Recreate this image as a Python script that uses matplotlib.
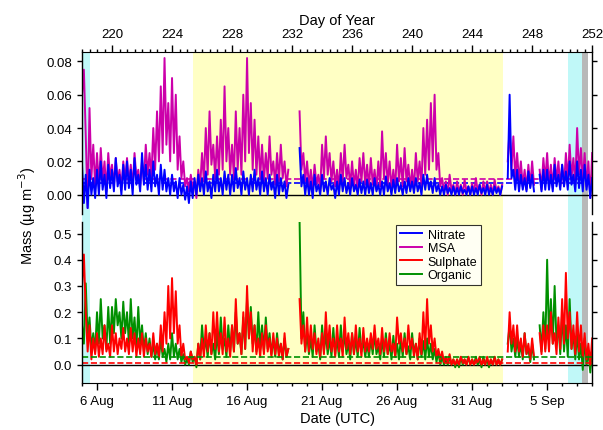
import numpy as np
import matplotlib
matplotlib.use("Agg")
import matplotlib.pyplot as plt
from matplotlib.ticker import MultipleLocator, FixedLocator

plt.rcParams['font.family'] = ['Liberation Sans', 'DejaVu Sans']

nan = np.nan

# values, 3-hourly from DOY 218 (one row per day)
# top panel in ng m-3 (x1000), bottom panel in x100 ug m-3
msa = [60, 75, 35, -8, 52, 10, 30, 5,
       25, 5, 28, 8, 20, 2, 25, 10,
       18, 5, 22, 8, 15, 3, 20, 8,
       22, 6, 18, 4, 25, 10, 15, 5,
       20, 8, 30, 12, 25, 10, 40, 15,
       50, 20, 65, 25, 82, 30, 55, 20,
       70, 25, 60, 15, 35, 10, 20, 5,
       10, 2, 12, 4, 8, -2, 15, 5,
       25, 8, 40, 12, 50, 18, 30, 10,
       35, 12, 45, 15, 65, 20, 40, 12,
       30, 10, 50, 15, 40, 12, 60, 20,
       82, 25, 55, 15, 45, 12, 35, 10,
       30, 8, 25, 10, 35, 12, 20, 6,
       25, 8, 30, 10, 20, 5, 15, nan,
       nan, nan, nan, nan, 50, 15, 25, 8,
       20, 5, 15, 3, 18, 6, 12, 2,
       30, 10, 35, 12, 25, 8, 20, 5,
       15, 3, 25, 8, 30, 10, 18, 5,
       20, 5, 15, 3, 22, 8, 25, 6,
       18, 4, 22, 6, 15, 3, 20, 5,
       38, 10, 25, 6, 20, 4, 15, 3,
       30, 8, 22, 5, 28, 8, 18, 4,
       15, 3, 25, 8, 20, 5, 40, 12,
       45, 15, 55, 20, 60, 15, 25, 5,
       10, 2, 8, 0, 12, 3, 6, 0,
       8, 1, 6, 0, 9, 2, 5, 0,
       7, 1, 10, 2, 6, 0, 8, 1,
       8, 1, 6, 0, 9, 2, 5, 0,
       6, nan, nan, 20, 40, 15, 35, 10,
       25, 8, 20, 5, 15, 3, 18, 5,
       20, 6, nan, nan, 15, 3, 22, 8,
       25, 6, 18, 4, 22, 8, 20, 5,
       18, 5, 25, 8, 30, 10, 22, 6,
       40, 12, 28, 8, 25, 5, 20, -2,
       25]
nitrate = [18, -5, 12, -8, 15, 0, 10, -2,
           15, 0, 20, 3, 12, -2, 18, 4,
           15, 2, 22, 5, 12, 0, 18, 3,
           20, 4, 15, 0, 22, 6, 12, 2,
           25, 6, 18, 3, 15, 2, 20, 5,
           12, 0, 18, 3, 15, 2, 10, 0,
           12, 2, 8, -2, 10, 0, 6, -3,
           5, -5, 8, -2, 10, 0, 12, 2,
           10, 0, 14, 2, 8, -2, 12, 2,
           15, 2, 10, 0, 14, 3, 12, 0,
           12, 2, 16, 4, 10, 0, 14, 3,
           10, 0, 12, 2, 15, 3, 10, 0,
           14, 2, 10, 0, 12, 3, 8, -2,
           12, 0, 10, 2, 8, -2, 6, nan,
           nan, nan, nan, nan, 28, 5, 12, 0,
           10, 0, 8, -2, 12, 2, 6, 0,
           12, 2, 8, 0, 10, 3, 6, -2,
           8, 0, 12, 2, 10, 1, 7, 0,
           10, 2, 6, 0, 9, 1, 8, 0,
           9, 1, 7, 0, 10, 2, 6, 0,
           8, 0, 11, 2, 7, 0, 9, 1,
           10, 2, 6, 0, 8, 1, 10, 2,
           8, 1, 10, 2, 7, 0, 12, 3,
           12, 3, 8, 1, 10, 2, 6, 0,
           5, 0, 6, 1, 4, 0, 5, 0,
           4, 0, 5, 1, 3, 0, 5, 0,
           5, 0, 4, 0, 6, 1, 4, 0,
           6, 0, 4, 0, 5, 1, 4, 0,
           5, nan, nan, 10, 60, 10, 15, 3,
           15, 2, 12, 3, 10, 2, 14, 4,
           12, 2, nan, nan, 12, 2, 15, 3,
           15, 3, 12, 2, 18, 5, 12, 3,
           18, 5, 14, 3, 20, 6, 12, 2,
           20, 4, 15, 2, 18, 3, 12, -2,
           10]
sulphate = [30, 42, 20, 5, 15, 2, 10, 4,
            12, 3, 10, 4, 15, 5, 8, 3,
            15, 5, 12, 4, 10, 6, 14, 5,
            10, 4, 14, 5, 12, 3, 10, 4,
            12, 3, 10, 5, 8, 3, 12, 4,
            8, 3, 15, 5, 20, 8, 30, 10,
            33, 12, 28, 8, 15, 3, 8, 2,
            3, 1, 5, 2, 3, 0, 8, 2,
            10, 3, 15, 5, 12, 4, 20, 6,
            20, 5, 12, 4, 18, 5, 10, 3,
            15, 5, 25, 8, 12, 4, 20, 6,
            30, 10, 20, 5, 15, 4, 10, 3,
            12, 4, 15, 5, 10, 3, 12, 4,
            10, 3, 8, 2, 12, 3, 6, nan,
            nan, nan, nan, nan, 25, 8, 15, 5,
            18, 5, 15, 6, 12, 4, 10, 3,
            12, 4, 20, 6, 15, 5, 10, 3,
            15, 5, 10, 3, 18, 6, 12, 4,
            12, 4, 15, 5, 10, 3, 14, 5,
            10, 5, 12, 6, 15, 6, 10, 4,
            14, 5, 10, 4, 12, 5, 8, 3,
            18, 8, 12, 5, 10, 4, 15, 6,
            10, 3, 8, 2, 12, 4, 20, 6,
            25, 8, 15, 5, 10, 3, 6, 2,
            5, 1, 3, 1, 4, 0, 2, 0,
            2, 0, 3, 1, 2, 0, 3, 0,
            2, 0, 2, 1, 3, 0, 2, 0,
            3, 0, 2, 0, 3, 0, 2, 0,
            2, nan, nan, 5, 20, 8, 15, 5,
            15, 5, 10, 3, 12, 4, 8, 2,
            10, 3, nan, nan, 12, 4, 15, 5,
            15, 5, 20, 8, 12, 4, 18, 6,
            25, 8, 35, 10, 20, 6, 15, 4,
            20, 5, 15, 3, 12, 2, 8, 0,
            10]
organic = [15, 8, 31, 10, 18, 6, 12, 5,
           20, 8, 25, 10, 15, 6, 22, 8,
           22, 12, 25, 15, 20, 10, 24, 12,
           20, 8, 25, 10, 18, 6, 22, 8,
           15, 5, 12, 4, 10, 3, 8, 2,
           8, 2, 10, 3, 6, 1, 8, 2,
           12, 3, 8, 2, 6, 1, 4, 0,
           2, 0, 5, 1, 3, -1, 8, 2,
           15, 5, 10, 3, 12, 4, 8, 2,
           12, 4, 18, 6, 10, 3, 15, 5,
           15, 5, 20, 8, 12, 4, 18, 6,
           25, 10, 22, 8, 15, 5, 20, 6,
           15, 5, 18, 6, 12, 4, 10, 3,
           12, 4, 8, 2, 10, 3, 6, nan,
           nan, nan, nan, nan, 55, 10, 20, 5,
           12, 4, 10, 3, 15, 5, 8, 2,
           15, 5, 12, 4, 10, 3, 14, 4,
           10, 3, 15, 5, 12, 4, 8, 2,
           12, 4, 10, 3, 14, 5, 9, 3,
           8, 3, 10, 4, 12, 4, 7, 2,
           10, 3, 12, 4, 8, 2, 11, 3,
           8, 2, 10, 3, 12, 4, 7, 2,
           12, 4, 8, 2, 10, 3, 9, 2,
           10, 3, 8, 2, 6, 1, 5, 0,
           3, 0, 2, 0, 3, 0, 2, -1,
           2, -1, 3, 0, 2, 0, 3, 0,
           2, 0, 3, 0, 2, -1, 3, 0,
           2, -1, 2, 0, 3, 0, 2, 0,
           2, nan, nan, 8, 15, 5, 10, 3,
           10, 3, 8, 2, 12, 4, 6, 1,
           8, 2, nan, nan, 15, 5, 20, 6,
           40, 10, 25, 8, 30, 8, 15, 4,
           20, 5, 15, 3, 25, 6, 12, 2,
           12, 2, 8, -2, 10, 0, 5, -3,
           5]

doy = 218.0 + 0.125 * np.arange(len(msa))

# campaign averages (dashed lines)
mean_msa, mean_nitrate = 0.0095, 0.0072
mean_sulphate, mean_organic = 0.008, 0.030

# shaded periods (day of year)
cyan_spans = [(218.0, 218.5), (250.4, 251.35)]
yellow_span = (225.42, 246.05)
grey_span = (251.35, 251.75)

date_ticks = [219, 224, 229, 234, 239, 244, 249]
date_labels = ['6 Aug', '11 Aug', '16 Aug', '21 Aug', '26 Aug', '31 Aug', '5 Sep']

c_nit, c_msa, c_sul, c_org = '#0000ff', '#cc00aa', '#ff0000', '#009000'

fig = plt.figure(figsize=(6.03, 4.31), dpi=100)
L, W = 0.136, 0.846
ax_bg = fig.add_axes([L, 0.109, W, 0.768])
ax1 = fig.add_axes([L, 0.501, W, 0.376])
ax2 = fig.add_axes([L, 0.109, W, 0.3743])

ax_bg.set_xlim(218, 252)
ax_bg.axis('off')
for a, b in cyan_spans:
    ax_bg.axvspan(a, b, color='#c0f8f8', lw=0)
ax_bg.axvspan(*yellow_span, color='#ffffc4', lw=0)
ax_bg.axvspan(*grey_span, color='#b8b8b8', lw=0)

for ax in (ax1, ax2):
    ax.set_facecolor('none')
    ax.set_xlim(218, 252)
    ax.axhline(0, color='k', lw=1)
    ax.tick_params(direction='out', labelsize=9.5, right=True, width=1)
    ax.tick_params(which='minor', direction='out', width=1, length=2.5)
    ax.spines['left'].set_linewidth(1)
    ax.spines['right'].set_linewidth(1)

ax1.axhline(mean_msa, color=c_msa, ls='--', lw=1.2, zorder=1.5)
ax1.axhline(mean_nitrate, color=c_nit, ls='--', lw=1.2, zorder=1.5)
ax1.plot(doy, np.array(msa) / 1000, color=c_msa, lw=1.4, label='MSA')
ax1.plot(doy, np.array(nitrate) / 1000, color=c_nit, lw=1.4, label='Nitrate')
ax1.set_ylim(-0.0116, 0.0856)
ax1.yaxis.set_major_locator(MultipleLocator(0.02))
ax1.yaxis.set_major_formatter(plt.FormatStrFormatter('%.2f'))
ax1.spines['bottom'].set_visible(False)
ax1.xaxis.tick_top()
ax1.xaxis.set_label_position('top')
ax1.xaxis.set_major_locator(MultipleLocator(4))
ax1.xaxis.set_minor_locator(MultipleLocator(0.5))
ax1.tick_params(axis='x', which='major', length=5)
ax1.set_xlabel('Day of Year', fontsize=10.5, labelpad=3)

ax2.plot(doy, np.array(organic) / 100, color=c_org, lw=1.4, label='Organic')
ax2.plot(doy, np.array(sulphate) / 100, color=c_sul, lw=1.4, label='Sulphate')
ax2.axhline(mean_organic, color=c_org, ls='--', lw=1.2)
ax2.axhline(mean_sulphate, color=c_sul, ls='--', lw=1.2)
ax2.set_ylim(-0.07, 0.545)
ax2.yaxis.set_major_locator(MultipleLocator(0.1))
ax2.yaxis.set_major_formatter(plt.FormatStrFormatter('%.1f'))
ax2.spines['top'].set_visible(False)
ax2.xaxis.set_major_locator(FixedLocator(date_ticks))
ax2.set_xticklabels(date_labels)
ax2.xaxis.set_minor_locator(MultipleLocator(1))
ax2.tick_params(axis='x', which='major', length=5)
ax2.set_xlabel('Date (UTC)', fontsize=10.5, labelpad=3)

fig.text(0.045, 0.5, 'Mass (\u00b5g m$^{-3}$)', rotation=90, va='center',
         ha='center', fontsize=10.5)

h1, l1 = ax1.get_legend_handles_labels()
h2, l2 = ax2.get_legend_handles_labels()
handles = [h1[1], h1[0], h2[1], h2[0]]
labels = ['Nitrate', 'MSA', 'Sulphate', 'Organic']
leg = ax2.legend(handles, labels, loc='upper left', bbox_to_anchor=(0.616, 0.98),
                 borderaxespad=0, fontsize=9, frameon=True, fancybox=False,
                 edgecolor='k', handlelength=1.75, borderpad=0.3,
                 labelspacing=0.12, handletextpad=0.45)
leg.get_frame().set_linewidth(0.8)

fig.savefig('out.png', dpi=100)
